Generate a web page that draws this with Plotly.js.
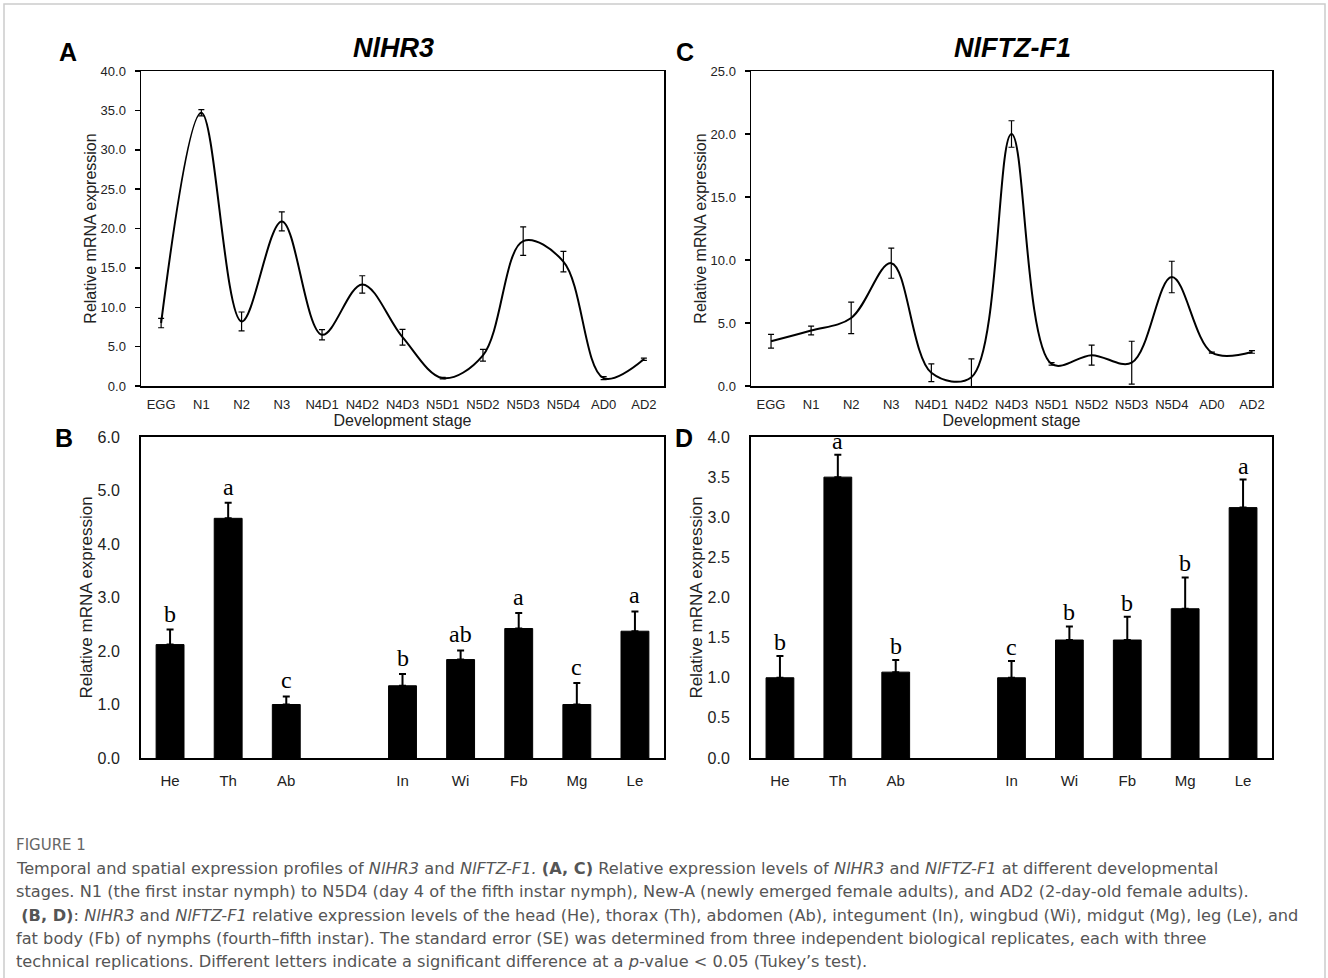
<!DOCTYPE html>
<html>
<head>
<meta charset="utf-8">
<script src="https://cdn.plot.ly/plotly-3.0.1.min.js"></script>
<style>
  html, body { margin: 0; padding: 0; background: #ffffff; }
  #chart { width: 1328px; height: 978px; }
</style>
</head>
<body>
<div id="chart"></div>
<script>
// ---------- data ----------
const stages = ['EGG', 'N1', 'N2', 'N3', 'N4D1', 'N4D2', 'N4D3', 'N5D1', 'N5D2', 'N5D3', 'N5D4', 'AD0', 'AD2'];
const hr3Stage = [8.0, 34.7, 8.2, 20.9, 6.5, 12.9, 6.2, 1.0, 3.9, 18.4, 15.8, 1.0, 3.4];
const hr3StageErr = [0.6, 0.4, 1.2, 1.2, 0.65, 1.1, 1.0, 0.1, 0.75, 1.8, 1.3, 0.2, 0.15];
const ftzStage = [3.55, 4.4, 5.4, 9.75, 1.05, 0.7, 20.0, 1.75, 2.45, 1.85, 8.65, 2.65, 2.7];
const ftzStageErr = [0.55, 0.35, 1.25, 1.2, 0.7, 1.45, 1.05, 0.1, 0.8, 1.7, 1.25, 0.05, 0.1];

const tissues = ['He', 'Th', 'Ab', 'In', 'Wi', 'Fb', 'Mg', 'Le'];
const tissueAxis = ['He', 'Th', 'Ab', ' ', 'In', 'Wi', 'Fb', 'Mg', 'Le'];
const hr3Tissue = [2.12, 4.48, 1.0, 1.35, 1.84, 2.42, 1.0, 2.37];
const hr3TissueErr = [0.28, 0.29, 0.15, 0.22, 0.17, 0.29, 0.4, 0.37];
const hr3Letters = ['b', 'a', 'c', 'b', 'ab', 'a', 'c', 'a'];
const ftzTissue = [1.0, 3.5, 1.07, 1.0, 1.47, 1.47, 1.86, 3.12];
const ftzTissueErr = [0.27, 0.28, 0.15, 0.21, 0.17, 0.29, 0.39, 0.35];
const ftzLetters = ['b', 'a', 'b', 'c', 'b', 'b', 'b', 'a'];

const geneTitles = ['<i><b>NlHR3</b></i>', '<i><b>NlFTZ-F1</b></i>'];
const panelLetters = ['A', 'B', 'C', 'D'];
const yTitle = 'Relative mRNA expression';
const xTitle = 'Development stage';

const captionHead = 'FIGURE 1';
const captionLines = [
  'Temporal and spatial expression profiles of <i>NlHR3</i> and <i>NlFTZ-F1.</i> <b>(A, C)</b> Relative expression levels of <i>NlHR3</i> and <i>NlFTZ-F1</i> at different developmental',
  'stages. N1 (the first instar nymph) to N5D4 (day 4 of the fifth instar nymph), New-A (newly emerged female adults), and AD2 (2-day-old female adults).',
  ' <b>(B, D)</b>: <i>NlHR3</i> and <i>NlFTZ-F1</i> relative expression levels of the head (He), thorax (Th), abdomen (Ab), integument (In), wingbud (Wi), midgut (Mg), leg (Le), and',
  'fat body (Fb) of nymphs (fourth–fifth instar). The standard error (SE) was determined from three independent biological replicates, each with three',
  'technical replications. Different letters indicate a significant difference at a <i>p</i>-value &lt; 0.05 (Tukey’s test).'
];

// ---------- geometry helpers ----------
const W = 1328, H = 978;
const px = v => v / W;
const py = v => 1 - v / H;

const AX = 'Liberation Sans, Arial, sans-serif';
const SERIF = 'Liberation Serif, Times New Roman, serif';
const CAP = 'DejaVu Sans, Noto Sans, sans-serif';

function lineTrace(y, err, xa, ya) {
  return {
    type: 'scatter', mode: 'lines', x: stages, y: y,
    xaxis: xa, yaxis: ya,
    line: { color: '#000', width: 2, shape: 'spline', smoothing: 1.0 },
    error_y: { type: 'data', array: err, visible: true, color: '#000', thickness: 1.2, width: 3 },
    hoverinfo: 'x+y'
  };
}
function barTrace(y, err, xa, ya) {
  return {
    type: 'bar', x: tissues, y: y, xaxis: xa, yaxis: ya,
    width: 0.48,
    marker: { color: '#000', line: { color: '#000', width: 1 } },
    error_y: { type: 'data', symmetric: false, array: err, arrayminus: err.map(() => 0),
               visible: true, color: '#000', thickness: 2, width: 3.5 }
  };
}

const data = [
  lineTrace(hr3Stage, hr3StageErr, 'x', 'y'),
  lineTrace(ftzStage, ftzStageErr, 'x2', 'y2'),
  barTrace(hr3Tissue, hr3TissueErr, 'x3', 'y3'),
  barTrace(ftzTissue, ftzTissueErr, 'x4', 'y4')
];

function xAxisLine(domain, anchor) {
  return {
    domain: domain, anchor: anchor, type: 'category',
    categoryorder: 'array', categoryarray: stages, range: [-0.5, 12.5],
    showline: true, linecolor: '#000', linewidth: 1.5, mirror: true,
    ticks: '', showgrid: false, zeroline: false,
    tickfont: { family: AX, size: 13, color: '#222' },
    ticklabelstandoff: 6,
    title: { text: xTitle, font: { family: AX, size: 16, color: '#222' }, standoff: 2 }
  };
}
function yAxisLine(domain, anchor, maxV) {
  return {
    domain: domain, anchor: anchor, range: [0, maxV], dtick: 5, tickformat: '.1f',
    showline: true, linecolor: '#000', linewidth: 1.5, mirror: true,
    ticks: 'outside', ticklen: 5, tickwidth: 1.5, tickcolor: '#000',
    showgrid: false, zeroline: false,
    tickfont: { family: AX, size: 13, color: '#222' },
    ticklabelstandoff: 6,
    title: { text: yTitle, font: { family: AX, size: 16, color: '#222' } }
  };
}
function xAxisBar(domain, anchor) {
  return {
    domain: domain, anchor: anchor, type: 'category',
    categoryorder: 'array', categoryarray: tissueAxis, range: [-0.5, 8.5],
    showline: true, linecolor: '#000', linewidth: 2, mirror: true,
    ticks: '', showgrid: false, zeroline: false,
    tickfont: { family: AX, size: 15, color: '#222' },
    ticklabelstandoff: 8
  };
}
function yAxisBar(domain, anchor, maxV, step) {
  return {
    domain: domain, anchor: anchor, range: [0, maxV], dtick: step, tickformat: '.1f',
    showline: true, linecolor: '#000', linewidth: 2, mirror: true,
    ticks: '', showgrid: false, zeroline: false,
    tickfont: { family: AX, size: 16, color: '#222' },
    ticklabelstandoff: 16,
    title: { text: yTitle, font: { family: AX, size: 17, color: '#222' } }
  };
}

const leftX = [px(141), px(664)];
const rightX = [px(751), px(1272)];
const topY = [py(386), py(71)];
const botY = [py(758), py(437)];

const annotations = [];
// gene titles
annotations.push({ xref: 'paper', yref: 'paper', x: px(393), y: py(48), text: geneTitles[0], showarrow: false,
  font: { family: AX, size: 27, color: '#000' }, xanchor: 'center', yanchor: 'middle' });
annotations.push({ xref: 'paper', yref: 'paper', x: px(1012), y: py(48), text: geneTitles[1], showarrow: false,
  font: { family: AX, size: 27, color: '#000' }, xanchor: 'center', yanchor: 'middle' });
// panel letters
const letterPos = [[68, 52], [64, 438], [685, 52], [684, 438]];
panelLetters.forEach((L, i) => {
  annotations.push({ xref: 'paper', yref: 'paper', x: px(letterPos[i][0]), y: py(letterPos[i][1]),
    text: '<b>' + L + '</b>', showarrow: false, font: { family: AX, size: 25, color: '#000' },
    xanchor: 'center', yanchor: 'middle' });
});
// significance letters
tissues.forEach((t, i) => {
  annotations.push({ xref: 'x3', yref: 'y3', x: t, y: hr3Tissue[i] + hr3TissueErr[i], text: hr3Letters[i],
    showarrow: false, yanchor: 'bottom', yshift: 1, font: { family: SERIF, size: 24, color: '#000' } });
  annotations.push({ xref: 'x4', yref: 'y4', x: t, y: ftzTissue[i] + ftzTissueErr[i], text: ftzLetters[i],
    showarrow: false, yanchor: 'bottom', yshift: -1, font: { family: SERIF, size: 24, color: '#000' } });
});
// caption
annotations.push({ xref: 'paper', yref: 'paper', x: px(14), y: py(845), text: captionHead, showarrow: false,
  xanchor: 'left', yanchor: 'middle', font: { family: CAP, size: 15, color: '#666' } });
const capY = [868, 891.5, 915, 938, 961];
captionLines.forEach((line, i) => {
  annotations.push({ xref: 'paper', yref: 'paper', x: px(14), y: py(capY[i]), text: line, showarrow: false,
    xanchor: 'left', yanchor: 'middle', align: 'left',
    font: { family: CAP, size: 16.2, color: '#555' } });
});

const layout = {
  width: W, height: H,
  margin: { l: 0, r: 0, t: 0, b: 0 },
  paper_bgcolor: '#fff', plot_bgcolor: '#fff',
  showlegend: false, bargap: 0,
  xaxis: xAxisLine(leftX, 'y'),
  yaxis: yAxisLine(topY, 'x', 40),
  xaxis2: xAxisLine(rightX, 'y2'),
  yaxis2: yAxisLine(topY, 'x2', 25),
  xaxis3: xAxisBar(leftX, 'y3'),
  yaxis3: yAxisBar(botY, 'x3', 6, 1),
  xaxis4: xAxisBar(rightX, 'y4'),
  yaxis4: yAxisBar(botY, 'x4', 4, 0.5),
  annotations: annotations,
  shapes: [
    { type: 'rect', xref: 'paper', yref: 'paper', x0: px(4), x1: px(1325), y0: -0.05, y1: py(4),
      line: { color: '#cccccc', width: 1.5 }, fillcolor: 'rgba(0,0,0,0)' }
  ]
};

Plotly.newPlot('chart', data, layout, { displayModeBar: false, staticPlot: true });
</script>
</body>
</html>
